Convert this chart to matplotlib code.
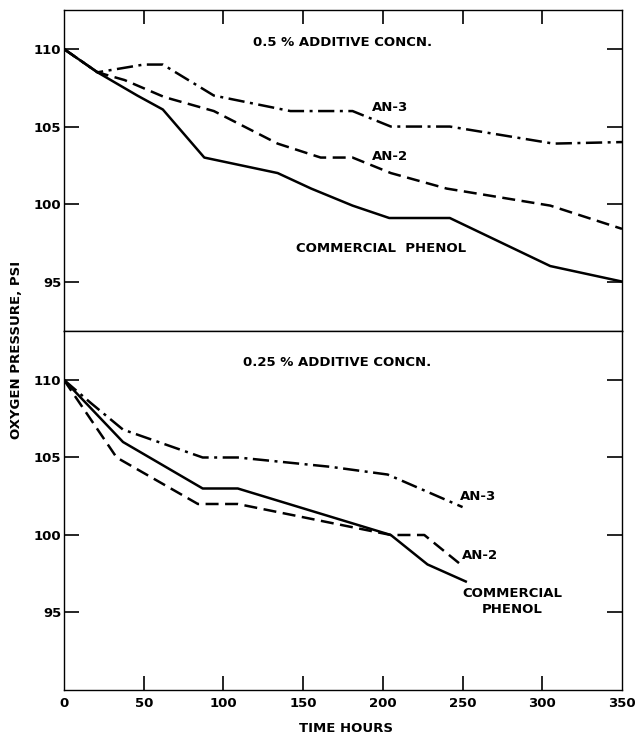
import matplotlib
matplotlib.use("Agg")
import matplotlib.pyplot as plt

# ---- data: top panel (0.5 % additive) ----
top_phenol_t = [0, 21, 46, 62, 88, 134, 155, 181, 204, 242, 305, 350]
top_phenol_p = [110, 108.5, 107, 106.1, 103, 102, 101, 99.9, 99.1, 99.1, 96, 95]
top_an2_t = [0, 21, 38, 63, 94, 134, 161, 181, 205, 240, 305, 350]
top_an2_p = [110, 108.5, 108, 106.9, 106, 103.9, 103, 103, 102, 101, 99.9, 98.4]
top_an3_t = [0, 21, 50, 62, 94, 142, 181, 205, 242, 307, 350]
top_an3_p = [110, 108.5, 109, 109, 107, 106, 106, 105, 105, 103.9, 104]

# ---- data: bottom panel (0.25 % additive) ----
bot_phenol_t = [0, 37, 87, 109, 205, 228, 252]
bot_phenol_p = [110, 106, 103, 103, 100, 98.1, 97]
bot_an2_t = [0, 33, 84, 109, 205, 226, 250]
bot_an2_p = [110, 105, 102, 102, 100, 100, 98]
bot_an3_t = [0, 17, 37, 87, 109, 167, 203, 250]
bot_an3_p = [110, 108.5, 106.8, 105, 105, 104.4, 103.9, 101.8]

x_ticks = [0, 50, 100, 150, 200, 250, 300, 350]
y_ticks = [95, 100, 105, 110]

plt.rcParams['font.family'] = ['DejaVu Sans']
fig = plt.figure(figsize=(6.39, 7.35), dpi=100)

L, W = 64 / 639, (622 - 64) / 639
ax_top = fig.add_axes([L, 1 - 331 / 735, W, (331 - 10) / 735])
ax_bot = fig.add_axes([L, 1 - 690 / 735, W, (690 - 331) / 735])

lw = 1.8
dash = (0, (5.2, 2.6))
dashdot = (0, (6.5, 2.2, 1.2, 2.2))

tfs = 9.5
for ax in (ax_top, ax_bot):
    ax.set_xlim(0, 350)
    ax.set_yticks(y_ticks)
    ax.set_yticklabels([str(v) for v in y_ticks], fontsize=tfs, fontweight='bold')
    for s in ax.spines.values():
        s.set_linewidth(1.0)
    ax.tick_params(axis='y', which='both', direction='in', length=11, width=1.2,
                   left=True, right=True, pad=2)

ax_top.set_ylim(91.81, 112.52)
ax_bot.set_ylim(90.0, 113.16)

# top panel lines
ax_top.plot(top_phenol_t, top_phenol_p, color='black', lw=lw, ls='-')
ax_top.plot(top_an2_t, top_an2_p, color='black', lw=lw, ls=dash)
ax_top.plot(top_an3_t, top_an3_p, color='black', lw=lw, ls=dashdot)

# bottom panel lines
ax_bot.plot(bot_phenol_t, bot_phenol_p, color='black', lw=lw, ls='-')
ax_bot.plot(bot_an2_t, bot_an2_p, color='black', lw=lw, ls=dash)
ax_bot.plot(bot_an3_t, bot_an3_p, color='black', lw=lw, ls=dashdot)

# x ticks
ax_top.set_xticks(x_ticks[1:-1])
ax_top.tick_params(axis='x', direction='in', length=10, width=1.2,
                   top=True, bottom=False, labeltop=False, labelbottom=False)
ax_bot.set_xticks(x_ticks)
ax_bot.set_xticklabels([str(v) for v in x_ticks], fontsize=tfs, fontweight='bold')
ax_bot.tick_params(axis='x', direction='in', length=10, width=1.2,
                   top=False, bottom=True, pad=5)
ticks = ax_bot.xaxis.get_major_ticks()
ticks[0].tick1line.set_visible(False)
ticks[-1].tick1line.set_visible(False)

# annotations
fs = 9.5
kw = dict(fontsize=fs, fontweight='bold')
ax_top.text(118.6, 110.45, "0.5 % ADDITIVE CONCN.", va='center', ha='left', **kw)
ax_top.text(193, 106.26, "AN-3", va='center', ha='left', **kw)
ax_top.text(193, 103.1, "AN-2", va='center', ha='left', **kw)
ax_top.text(145.5, 97.16, "COMMERCIAL  PHENOL", va='center', ha='left', **kw)

ax_bot.text(112.3, 111.16, "0.25 % ADDITIVE CONCN.", va='center', ha='left', **kw)
ax_bot.text(248.4, 102.5, "AN-3", va='center', ha='left', **kw)
ax_bot.text(249.7, 98.7, "AN-2", va='center', ha='left', **kw)
ax_bot.text(281, 95.7, "COMMERCIAL\nPHENOL", va='center', ha='center',
            linespacing=1.25, **kw)

fig.text(17 / 639, 1 - 350 / 735, "OXYGEN PRESSURE, PSI", rotation=90,
         va='center', ha='center', **kw)
fig.text(346 / 639, 1 - 728 / 735, "TIME HOURS", va='center', ha='center', **kw)

fig.savefig("out.png", dpi=100)
